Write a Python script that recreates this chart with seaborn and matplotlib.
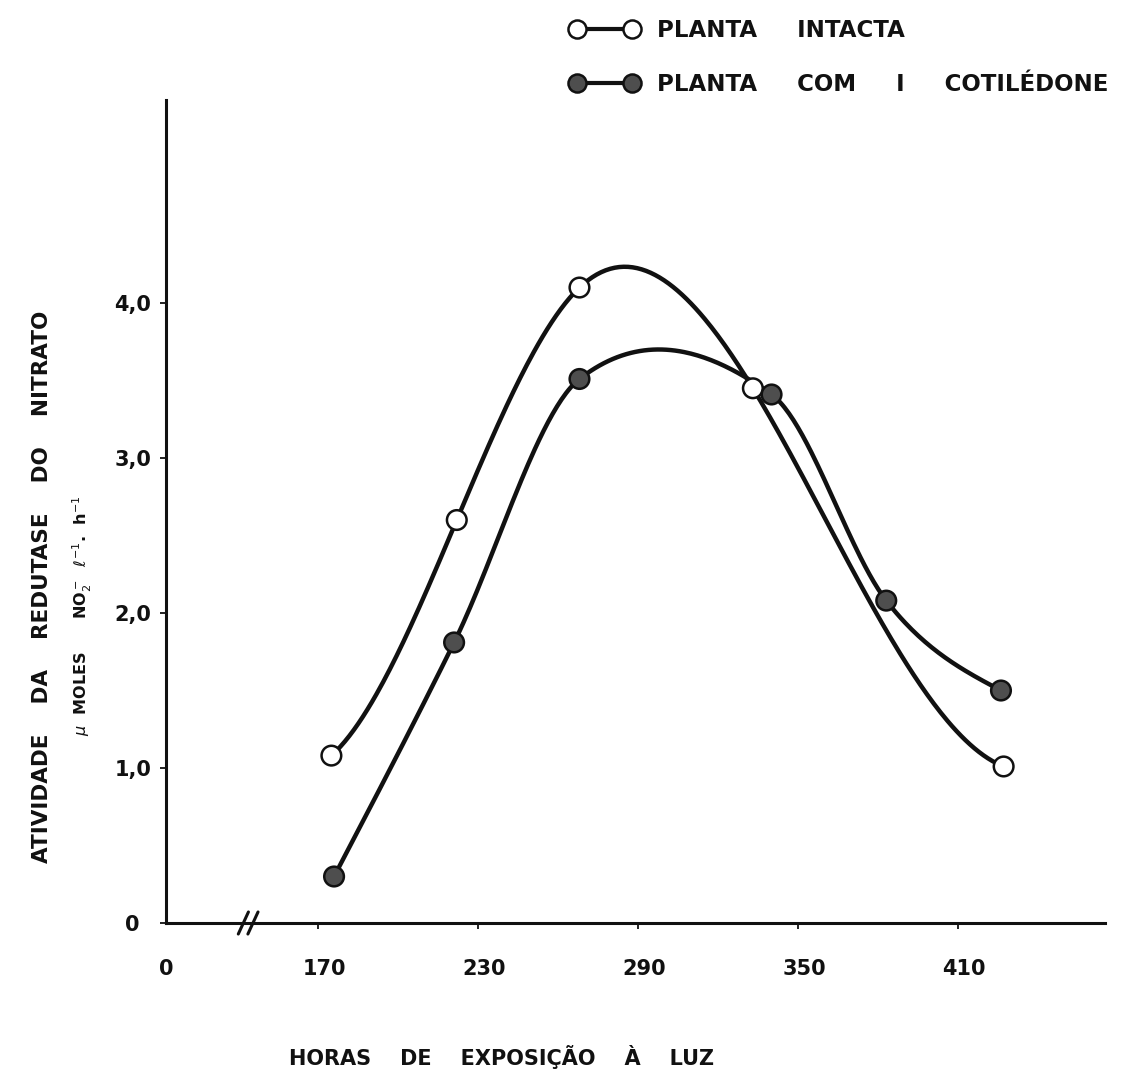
import numpy as np
import pandas as pd
import matplotlib
matplotlib.use("Agg")
import matplotlib.pyplot as plt
import matplotlib.transforms as mtransforms
from matplotlib.lines import Line2D
import seaborn as sns

# valores
horas_intacta = [175, 222, 268, 333, 427]
atividade_intacta = [1.08, 2.60, 4.10, 3.45, 1.01]
horas_cotiledone = [176, 221, 268, 340, 383, 426]
atividade_cotiledone = [0.30, 1.81, 3.51, 3.41, 2.08, 1.50]

serie_intacta = "PLANTA     INTACTA"
serie_cotiledone = "PLANTA     COM     I     COTILÉDONE"

xticks = [113, 170, 230, 290, 350, 410]
xtick_labels = ["0", "170", "230", "290", "350", "410"]
yticks = [0, 1, 2, 3, 4]
ytick_labels = ["0", "1,0", "2,0", "3,0", "4,0"]

PRETO = "#111111"


def spline_curve(x, y, npts=300):
    # spline cubica "not-a-knot"
    x = np.asarray(x, float)
    y = np.asarray(y, float)
    n = len(x)
    h = np.diff(x)
    A = np.zeros((n, n))
    b = np.zeros(n)
    A[0, 0], A[0, 1], A[0, 2] = -h[1], h[0] + h[1], -h[0]
    A[-1, -3], A[-1, -2], A[-1, -1] = -h[-1], h[-2] + h[-1], -h[-2]
    for i in range(1, n - 1):
        A[i, i - 1] = h[i - 1]
        A[i, i] = 2 * (h[i - 1] + h[i])
        A[i, i + 1] = h[i]
        b[i] = 3 * ((y[i + 1] - y[i]) / h[i] - (y[i] - y[i - 1]) / h[i - 1])
    c = np.linalg.solve(A, b)
    bb = (y[1:] - y[:-1]) / h - h * (2 * c[:-1] + c[1:]) / 3
    d = (c[1:] - c[:-1]) / (3 * h)
    xs = np.linspace(x[0], x[-1], npts)
    k = np.clip(np.searchsorted(x, xs) - 1, 0, n - 2)
    t = xs - x[k]
    ys = y[k] + bb[k] * t + c[k] * t ** 2 + d[k] * t ** 3
    return xs, ys


def hermite_curve(x, y, npts=300):
    # hermite cubica com tangentes tipo catmull-rom (menos "overshoot")
    x = np.asarray(x, float)
    y = np.asarray(y, float)
    h = np.diff(x)
    s = np.diff(y) / h
    m = np.empty(len(x))
    m[1:-1] = (y[2:] - y[:-2]) / (x[2:] - x[:-2])
    m[0] = (3 * s[0] - m[1]) / 2
    m[-1] = (3 * s[-1] - m[-2]) / 2
    xs = np.linspace(x[0], x[-1], npts)
    k = np.clip(np.searchsorted(x, xs) - 1, 0, len(x) - 2)
    t = (xs - x[k]) / h[k]
    h00 = 2 * t ** 3 - 3 * t ** 2 + 1
    h10 = t ** 3 - 2 * t ** 2 + t
    h01 = -2 * t ** 3 + 3 * t ** 2
    h11 = t ** 3 - t ** 2
    ys = h00 * y[k] + h10 * h[k] * m[k] + h01 * y[k + 1] + h11 * h[k] * m[k + 1]
    return xs, ys


pontos = pd.concat([
    pd.DataFrame({"horas": horas_intacta, "atividade": atividade_intacta, "serie": serie_intacta}),
    pd.DataFrame({"horas": horas_cotiledone, "atividade": atividade_cotiledone, "serie": serie_cotiledone}),
])

xs1, ys1 = spline_curve(horas_intacta, atividade_intacta)
xs2, ys2 = hermite_curve(horas_cotiledone, atividade_cotiledone)
curvas = pd.concat([
    pd.DataFrame({"horas": xs1, "atividade": ys1, "serie": serie_intacta}),
    pd.DataFrame({"horas": xs2, "atividade": ys2, "serie": serie_cotiledone}),
])

sns.set_style("ticks")
plt.rcParams["font.family"] = ["DejaVu Sans"]
plt.rcParams["text.color"] = PRETO
plt.rcParams["xtick.color"] = PRETO
plt.rcParams["ytick.color"] = PRETO
plt.rcParams["xtick.labelcolor"] = PRETO
plt.rcParams["ytick.labelcolor"] = PRETO

fig = plt.figure(figsize=(11.22, 10.71), dpi=100)
ax = fig.add_axes([166 / 1122, 148 / 1071, 939 / 1122, 823 / 1071])

sns.lineplot(data=curvas, x="horas", y="atividade", hue="serie",
             palette={serie_intacta: PRETO, serie_cotiledone: PRETO},
             estimator=None, sort=False, lw=3.2, legend=False, ax=ax, zorder=2)
sns.scatterplot(data=pontos, x="horas", y="atividade", hue="serie",
                palette={serie_intacta: "white", serie_cotiledone: "#4e4e4e"},
                edgecolor=PRETO, linewidth=1.8, s=200, legend=False,
                ax=ax, zorder=3)

ax.set_xlim(113, 465)
ax.set_ylim(0, 5.31)
ax.set_xlabel("")
ax.set_ylabel("")
sns.despine(ax=ax)
for sp in ["left", "bottom"]:
    ax.spines[sp].set_linewidth(2.2)
    ax.spines[sp].set_color(PRETO)

ax.set_xticks(xticks)
ax.set_xticklabels(xtick_labels)
ax.set_yticks(yticks)
ax.set_yticklabels(ytick_labels)
ax.tick_params(axis="x", length=4, width=1.3, pad=22, labelsize=15)
ax.tick_params(axis="y", length=4, width=1.3, pad=20, labelsize=15)
for lbl in ax.get_xticklabels() + ax.get_yticklabels():
    lbl.set_fontweight("bold")
for lbl in ax.get_yticklabels():
    lbl.set_ha("center")
desloc = mtransforms.ScaledTranslation(6 / 100, 0, fig.dpi_scale_trans)
for lbl in ax.get_xticklabels()[1:]:
    lbl.set_transform(lbl.get_transform() + desloc)
ax.xaxis.get_major_ticks()[0].tick1line.set_visible(False)

# quebra do eixo x
trans = ax.get_xaxis_transform()
for xb in [142, 145.6]:
    ax.plot([xb - 1.9, xb + 1.9], [-0.0134, 0.0134], color=PRETO, lw=2.2,
            transform=trans, clip_on=False, zorder=5)

fig.text(42 / 1122, 1 - 587 / 1071, "ATIVIDADE    DA    REDUTASE    DO    NITRATO",
         rotation=90, ha="center", va="center", fontsize=15.5, fontweight="bold")
fig.text(82 / 1122, 1 - 616 / 1071,
         r"$\mu$  MOLES      NO$_2^-$  $\ell^{-1}$.  h$^{-1}$",
         rotation=90, ha="center", va="center", fontsize=11.5, fontweight="bold")
fig.text(502 / 1122, 1 - 1057 / 1071, "HORAS    DE    EXPOSIÇÃO    À    LUZ",
         ha="center", va="center", fontsize=15, fontweight="bold")

handles = [
    Line2D([], [], color=PRETO, lw=3, marker="o", markersize=13,
           markerfacecolor="white", markeredgecolor=PRETO, markeredgewidth=1.8),
    Line2D([], [], color=PRETO, lw=3, marker="o", markersize=13,
           markerfacecolor="#4e4e4e", markeredgecolor=PRETO, markeredgewidth=1.8),
]
leg = fig.legend(handles, [serie_intacta, serie_cotiledone], loc="upper left",
                 bbox_to_anchor=(570 / 1122, 1 - 19 / 1071), numpoints=2,
                 handlelength=3.0, handletextpad=0.8, labelspacing=1.34,
                 frameon=False, borderpad=0, borderaxespad=0,
                 prop={"size": 16.5, "weight": "bold"})

fig.savefig("out.png", dpi=100, facecolor="white")
